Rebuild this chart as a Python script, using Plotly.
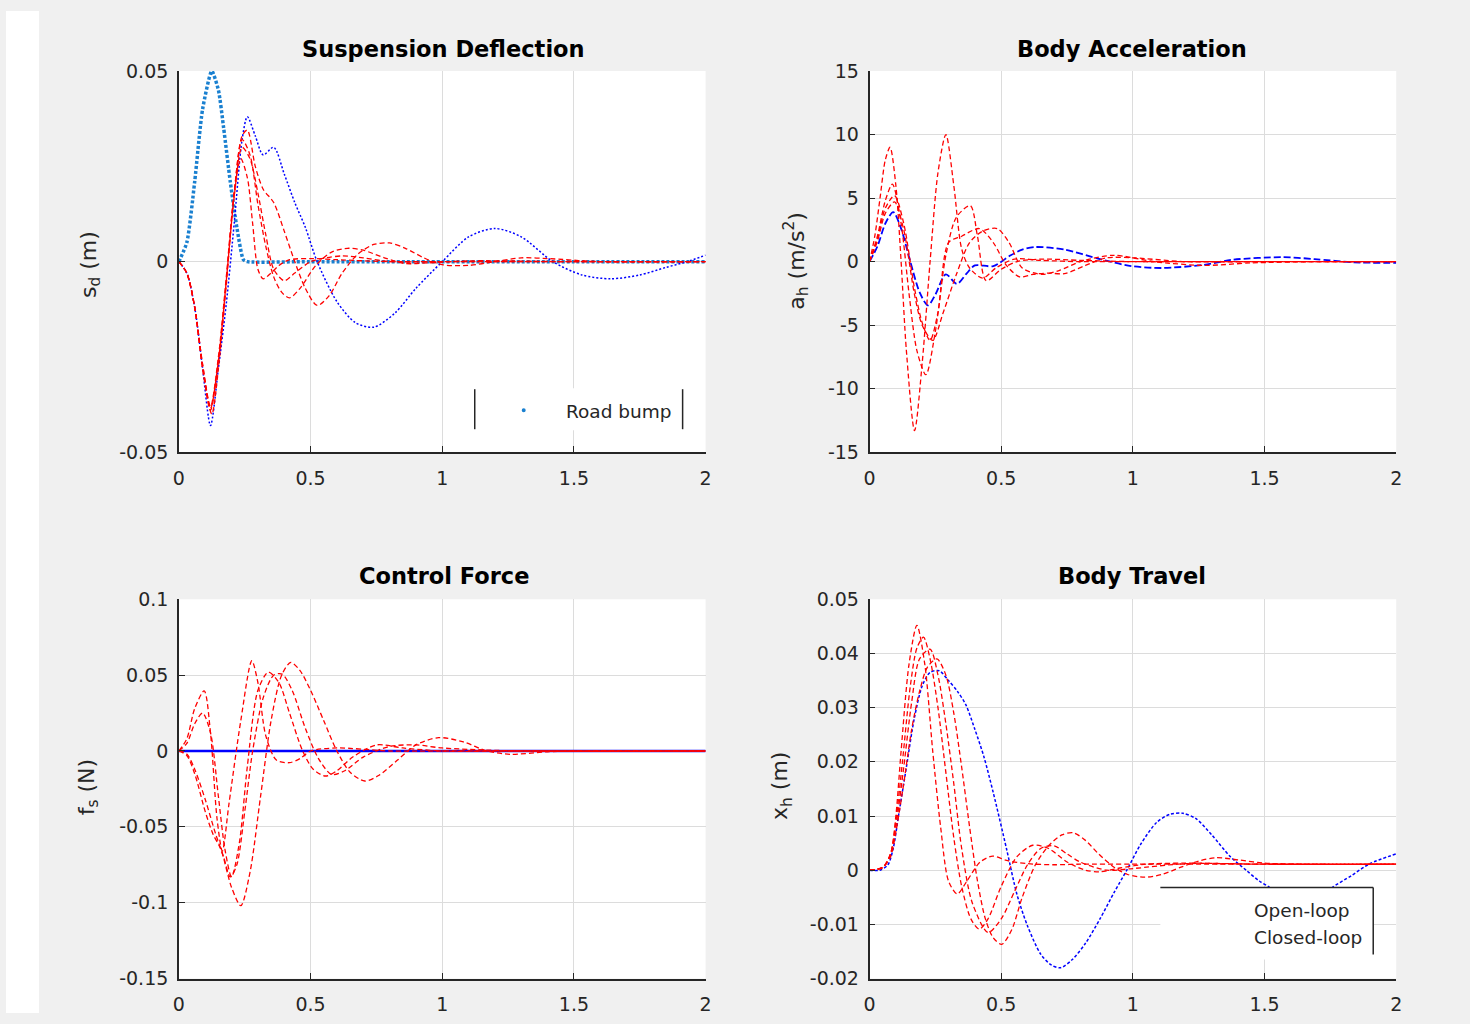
import plotly.graph_objects as go

# ---------------- data ----------------
# Suspension deflection s_d (m)
road_t = [0, 0.03, 0.06, 0.09, 0.125, 0.15, 0.17, 0.195, 0.22, 0.245, 0.26, 0.5, 1.0, 1.5, 2.0]
road_v = [0, 0.005, 0.021, 0.040, 0.050, 0.045, 0.035, 0.021, 0.009, 0.0005, 0, 0, 0, 0, 0]

sd_open_t = [0, 0.03, 0.06, 0.09, 0.12, 0.15, 0.18, 0.21, 0.24, 0.26, 0.29, 0.32, 0.36, 0.40, 0.44, 0.48,
             0.525, 0.6, 0.67, 0.74, 0.82, 0.9, 1.0, 1.1, 1.2, 1.3, 1.42, 1.53, 1.64, 1.75, 1.85, 1.93, 2.0]
sd_open_v = [0, -0.003, -0.012, -0.028, -0.043, -0.028, -0.011, 0.010, 0.032, 0.038, 0.033, 0.028, 0.030,
             0.023, 0.0155, 0.009, 0.0, -0.0105, -0.016, -0.0172, -0.0135, -0.007, 0.0, 0.0065, 0.0087,
             0.0065, 0.0, -0.0035, -0.0045, -0.0035, -0.0015, 0.0, 0.0017]

sd_cl1_t = [0, 0.03, 0.06, 0.09, 0.12, 0.15, 0.18, 0.21, 0.235, 0.26, 0.28, 0.30, 0.32, 0.35, 0.38, 0.42,
            0.5, 0.6, 0.8, 1.0, 1.5, 2.0]
sd_cl1_v = [0, -0.003, -0.012, -0.027, -0.038, -0.025, -0.004, 0.018, 0.027, 0.022, 0.010, -0.002, -0.0045,
            -0.003, -0.001, 0.0005, 0.0008, 0.0005, 0.0, 0.0, 0.0, 0.0]
sd_cl2_t = [0, 0.03, 0.06, 0.09, 0.12, 0.15, 0.18, 0.21, 0.24, 0.27, 0.30, 0.33, 0.36, 0.40, 0.44, 0.50,
            0.56, 0.62, 0.7, 0.8, 1.0, 1.5, 2.0]
sd_cl2_v = [0, -0.003, -0.012, -0.027, -0.0385, -0.026, -0.005, 0.017, 0.030, 0.027, 0.018, 0.007, -0.002,
            -0.005, -0.003, 0.0, 0.001, 0.0015, 0.001, 0.0, 0.0, 0.0, 0.0]
sd_cl3_t = [0, 0.03, 0.06, 0.09, 0.12, 0.15, 0.18, 0.21, 0.24, 0.27, 0.30, 0.33, 0.36, 0.39, 0.42, 0.46,
            0.52, 0.58, 0.64, 0.70, 0.78, 0.86, 0.95, 1.1, 1.5, 2.0]
sd_cl3_v = [0, -0.003, -0.012, -0.028, -0.039, -0.026, -0.005, 0.018, 0.032, 0.028, 0.015, 0.004, -0.004,
            -0.008, -0.0095, -0.007, -0.001, 0.0025, 0.0035, 0.003, 0.001, -0.0005, -0.0003, 0.0002, 0, 0]
sd_cl4_t = [0, 0.03, 0.06, 0.09, 0.125, 0.15, 0.18, 0.21, 0.24, 0.26, 0.29, 0.32, 0.36, 0.40, 0.44, 0.48,
            0.525, 0.57, 0.62, 0.68, 0.74, 0.80, 0.86, 0.93, 1.0, 1.1, 1.2, 1.3, 1.4, 1.6, 2.0]
sd_cl4_v = [0, -0.003, -0.012, -0.028, -0.040, -0.028, -0.006, 0.018, 0.033, 0.0345, 0.025, 0.019, 0.0155,
            0.008, 0.0, -0.007, -0.0115, -0.009, -0.003, 0.002, 0.0045, 0.0049, 0.0035, 0.001, -0.0008,
            -0.001, 0.0, 0.001, 0.0008, 0.0, 0.0]

# Body acceleration a_h (m/s^2)
ah_open_t = [0, 0.03, 0.06, 0.09, 0.12, 0.155, 0.19, 0.222, 0.25, 0.29, 0.332, 0.37, 0.40, 0.47, 0.536,
             0.58, 0.63, 0.74, 0.875, 0.994, 1.11, 1.27, 1.38, 1.57, 1.69, 1.84, 2.0]
ah_open_v = [0, 1.2, 3.0, 3.9, 2.6, 0, -2.4, -3.45, -2.6, -1.0, -1.75, -0.9, -0.3, -0.35, 0.5, 0.95, 1.15,
             0.95, 0.2, -0.35, -0.5, -0.25, 0.15, 0.35, 0.2, -0.05, -0.1]

ah_cl1_t = [0, 0.02, 0.04, 0.06, 0.078, 0.10, 0.12, 0.14, 0.171, 0.2, 0.23, 0.26, 0.29, 0.32, 0.35, 0.38,
            0.43, 0.48, 0.55, 0.65, 0.8, 1.0, 1.3, 2.0]
ah_cl1_v = [0, 2.0, 5.0, 8.0, 9.0, 6.0, 0.0, -7.0, -13.3, -8.0, 0.0, 7.0, 10.0, 6.0, 1.0, -0.5, -1.3, -0.5,
            0.2, 0.1, 0, 0, 0, 0]
ah_cl2_t = [0, 0.03, 0.06, 0.087, 0.12, 0.15, 0.18, 0.214, 0.25, 0.29, 0.33, 0.383, 0.41, 0.443, 0.5, 0.56,
            0.65, 0.8, 1.0, 1.3, 2.0]
ah_cl2_v = [0, 2.0, 4.8, 6.1, 3.0, -2.5, -7.0, -8.9, -5.5, 0.5, 3.5, 4.4, 2.0, -1.5, -0.6, 0.0, 0.2, 0.1,
            0, 0, 0]
ah_cl3_t = [0, 0.03, 0.06, 0.095, 0.13, 0.17, 0.2, 0.23, 0.26, 0.3, 0.35, 0.417, 0.47, 0.52, 0.57, 0.62,
            0.68, 0.74, 0.82, 0.9, 1.0, 1.2, 1.5, 2.0]
ah_cl3_v = [0, 1.8, 4.2, 5.2, 3.0, -2.0, -4.8, -6.2, -4.0, 1.5, 2.0, 2.6, 1.5, -0.3, -1.2, -1.0, -0.9,
            -0.95, -0.3, 0.3, 0.3, 0.0, 0.0, 0.0]
ah_cl4_t = [0, 0.03, 0.06, 0.095, 0.13, 0.17, 0.2, 0.24, 0.28, 0.33, 0.38, 0.43, 0.485, 0.53, 0.58, 0.655,
            0.72, 0.8, 0.926, 1.08, 1.27, 1.45, 1.7, 2.0]
ah_cl4_v = [0, 1.6, 3.8, 4.7, 2.5, -2.5, -5.0, -6.2, -4.0, -1.0, 1.5, 2.4, 2.6, 1.5, -0.5, -1.0, -0.7, 0.0,
            0.5, 0.0, -0.3, -0.1, 0.0, 0.0]

# Control force f_s (N)
fs_open_t = [0, 2.0]
fs_open_v = [0, 0]

fs_cl1_t = [0, 0.03, 0.06, 0.096, 0.12, 0.145, 0.165, 0.19, 0.235, 0.277, 0.30, 0.33, 0.37, 0.42, 0.46,
            0.5, 0.6, 0.8, 1.0, 1.5, 2.0]
fs_cl1_v = [0, 0.008, 0.028, 0.0396, 0.012, -0.045, -0.066, -0.035, 0.02, 0.0595, 0.045, 0.01, -0.006,
            -0.0077, -0.005, 0.0, 0.002, 0.0, 0, 0, 0]
fs_cl2_t = [0, 0.03, 0.06, 0.09, 0.12, 0.15, 0.175, 0.2, 0.23, 0.26, 0.3, 0.34, 0.38, 0.42, 0.47, 0.51,
            0.557, 0.6, 0.66, 0.75, 0.85, 1.0, 1.3, 2.0]
fs_cl2_v = [0, 0.005, 0.018, 0.025, 0.012, -0.03, -0.065, -0.083, -0.06, -0.01, 0.04, 0.052, 0.045, 0.025,
            0.0, -0.012, -0.0165, -0.013, -0.004, 0.004, 0.002, 0.0, 0.0, 0.0]
fs_cl3_t = [0, 0.03, 0.06, 0.1, 0.14, 0.17, 0.195, 0.22, 0.25, 0.28, 0.32, 0.36, 0.392, 0.43, 0.48, 0.53,
            0.58, 0.63, 0.7, 0.8, 0.9, 1.0, 1.3, 2.0]
fs_cl3_v = [0, -0.002, -0.012, -0.032, -0.055, -0.07, -0.083, -0.075, -0.04, 0.0, 0.035, 0.05, 0.0507,
            0.04, 0.015, -0.005, -0.0155, -0.013, -0.004, 0.003, 0.004, 0.002, 0.0, 0.0]
fs_cl4_t = [0, 0.03, 0.06, 0.1, 0.13, 0.16, 0.2, 0.235, 0.27, 0.31, 0.35, 0.39, 0.425, 0.46, 0.5, 0.55,
            0.6, 0.65, 0.706, 0.76, 0.83, 0.9, 0.986, 1.08, 1.17, 1.26, 1.4, 1.6, 2.0]
fs_cl4_v = [0, -0.003, -0.015, -0.04, -0.055, -0.065, -0.09, -0.102, -0.08, -0.03, 0.02, 0.05, 0.0584,
            0.053, 0.04, 0.02, 0.0, -0.014, -0.0198, -0.016, -0.006, 0.004, 0.0088, 0.006, 0.0, -0.0022,
            -0.0005, 0.0, 0.0]

# Body travel x_h (m)
xh_open_t = [0, 0.04, 0.07, 0.09, 0.11, 0.14, 0.17, 0.2, 0.23, 0.265, 0.3, 0.334, 0.366, 0.4, 0.434, 0.47,
             0.52, 0.56, 0.6, 0.65, 0.69, 0.726, 0.77, 0.82, 0.875, 0.93, 0.977, 1.03, 1.09, 1.14, 1.19,
             1.24, 1.3, 1.37, 1.43, 1.48, 1.52, 1.58, 1.64, 1.7, 1.757, 1.83, 1.9, 2.0]
xh_open_v = [0, 0.0, 0.001, 0.004, 0.010, 0.019, 0.028, 0.034, 0.0365, 0.0368, 0.035, 0.033, 0.0305,
             0.026, 0.021, 0.0143, 0.004, -0.0045, -0.0103, -0.0155, -0.0175, -0.018, -0.0165, -0.0135,
             -0.009, -0.004, 0.0, 0.0048, 0.0088, 0.0103, 0.0105, 0.0095, 0.0065, 0.0025, 0.0, -0.002,
             -0.0032, -0.0055, -0.0065, -0.0055, -0.0032, -0.001, 0.0012, 0.003]

xh_cl1_t = [0, 0.05, 0.08, 0.1, 0.12, 0.15, 0.18, 0.21, 0.24, 0.27, 0.3, 0.333, 0.37, 0.42, 0.468, 0.52,
            0.6, 0.7, 0.8, 1.0, 1.5, 2.0]
xh_cl1_v = [0, 0.0005, 0.003, 0.01, 0.022, 0.038, 0.0452, 0.038, 0.022, 0.008, -0.002, -0.0044, -0.002,
            0.0015, 0.0026, 0.0018, 0.0012, 0.001, 0.0011, 0.0011, 0.0011, 0.0011]
xh_cl2_t = [0, 0.05, 0.08, 0.1, 0.125, 0.155, 0.18, 0.205, 0.23, 0.26, 0.29, 0.32, 0.35, 0.385, 0.417,
            0.45, 0.5, 0.56, 0.62, 0.68, 0.75, 0.82, 0.875, 0.95, 1.05, 1.2, 1.5, 2.0]
xh_cl2_v = [0, 0.0005, 0.003, 0.009, 0.02, 0.034, 0.041, 0.043, 0.039, 0.03, 0.018, 0.006, -0.003,
            -0.009, -0.0109, -0.009, -0.003, 0.0025, 0.0046, 0.004, 0.0015, 0.0, -0.0003, 0.0004, 0.0011,
            0.0013, 0.0011, 0.0011]
xh_cl3_t = [0, 0.05, 0.08, 0.1, 0.13, 0.16, 0.19, 0.23, 0.26, 0.29, 0.32, 0.35, 0.39, 0.45, 0.5, 0.55,
            0.6, 0.65, 0.7, 0.75, 0.8, 0.9, 1.0, 1.2, 1.5, 2.0]
xh_cl3_v = [0, 0.0005, 0.003, 0.008, 0.019, 0.031, 0.039, 0.0408, 0.036, 0.027, 0.016, 0.004, -0.006,
            -0.0115, -0.009, -0.004, 0.001, 0.004, 0.0045, 0.003, 0.0015, 0.0, 0.0003, 0.0012, 0.0011,
            0.0011]
xh_cl4_t = [0, 0.05, 0.08, 0.1, 0.13, 0.16, 0.19, 0.22, 0.256, 0.29, 0.32, 0.35, 0.38, 0.41, 0.44, 0.47,
            0.502, 0.54, 0.58, 0.63, 0.68, 0.73, 0.774, 0.82, 0.87, 0.93, 0.98, 1.045, 1.11, 1.18, 1.25,
            1.316, 1.4, 1.5, 1.7, 2.0]
xh_cl4_v = [0, 0.0005, 0.0025, 0.007, 0.016, 0.026, 0.033, 0.0375, 0.039, 0.036, 0.029, 0.019, 0.008,
            -0.002, -0.009, -0.0125, -0.0137, -0.011, -0.005, 0.001, 0.0045, 0.0065, 0.0069, 0.0055,
            0.003, 0.0005, -0.0008, -0.0013, -0.0008, 0.0005, 0.0017, 0.0023, 0.0019, 0.0013, 0.0011,
            0.0011]

# ticks / labels
x_ticks = [0, 0.5, 1, 1.5, 2]
x_ticktext = ["0", "0.5", "1", "1.5", "2"]
sd_ticks = [-0.05, 0, 0.05]
sd_ticktext = ["-0.05", "0", "0.05"]
ah_ticks = [-15, -10, -5, 0, 5, 10, 15]
ah_ticktext = ["-15", "-10", "-5", "0", "5", "10", "15"]
fs_ticks = [-0.15, -0.1, -0.05, 0, 0.05, 0.1]
fs_ticktext = ["-0.15", "-0.1", "-0.05", "0", "0.05", "0.1"]
xh_ticks = [-0.02, -0.01, 0, 0.01, 0.02, 0.03, 0.04, 0.05]
xh_ticktext = ["-0.02", "-0.01", "0", "0.01", "0.02", "0.03", "0.04", "0.05"]

titles = ["Suspension Deflection", "Body Acceleration", "Control Force", "Body Travel"]
ylabels = ["s<sub>d</sub> (m)", "a<sub>h</sub> (m/s<sup>2</sup>)", "f<sub>s</sub> (N)", "x<sub>h</sub> (m)"]
legend1 = ["Road bump"]
legend2 = ["Open-loop", "Closed-loop"]

# ---------------- figure ----------------
W, H = 1470, 1024
# the page is shown slightly offset/scaled; convert target picture pixels to figure pixels
def DX(x):
    return (x - 5.0) / 0.9924
def DY(y):
    return (y - 12.0) / 0.978
def px(x):
    return DX(x) / W
def py(y):
    return 1 - DY(y) / H

RED = "#ff0000"
BLUE = "#0000ff"
BUMP = "#1a80d0"
FONT = "DejaVu Sans"
TXT = "#262626"

fig = go.Figure()

def red(t, v, xa, ya):
    fig.add_trace(go.Scatter(x=t, y=v, mode="lines", xaxis=xa, yaxis=ya, showlegend=False,
                             line=dict(color=RED, width=1.3, dash="5px,3px", shape="spline", smoothing=0.8)))

# panel 1
fig.add_trace(go.Scatter(x=road_t, y=road_v, mode="lines", xaxis="x", yaxis="y", showlegend=False,
                         line=dict(color=BUMP, width=3.5, dash="3px,2px", shape="spline", smoothing=0.6)))
fig.add_trace(go.Scatter(x=sd_open_t, y=sd_open_v, mode="lines", xaxis="x", yaxis="y", showlegend=False,
                         line=dict(color=BLUE, width=1.5, dash="2px,2px", shape="spline", smoothing=0.8)))
for t, v in [(sd_cl1_t, sd_cl1_v), (sd_cl2_t, sd_cl2_v), (sd_cl3_t, sd_cl3_v), (sd_cl4_t, sd_cl4_v)]:
    red(t, v, "x", "y")

# panel 2
fig.add_trace(go.Scatter(x=ah_open_t, y=ah_open_v, mode="lines", xaxis="x2", yaxis="y2", showlegend=False,
                         line=dict(color=BLUE, width=1.8, dash="7px,3px", shape="spline", smoothing=0.8)))
for t, v in [(ah_cl1_t, ah_cl1_v), (ah_cl2_t, ah_cl2_v), (ah_cl3_t, ah_cl3_v), (ah_cl4_t, ah_cl4_v)]:
    red(t, v, "x2", "y2")

# panel 3
fig.add_trace(go.Scatter(x=fs_open_t, y=fs_open_v, mode="lines", xaxis="x3", yaxis="y3", showlegend=False,
                         line=dict(color=BLUE, width=2.5)))
for t, v in [(fs_cl1_t, fs_cl1_v), (fs_cl2_t, fs_cl2_v), (fs_cl3_t, fs_cl3_v), (fs_cl4_t, fs_cl4_v)]:
    red(t, v, "x3", "y3")

# panel 4
fig.add_trace(go.Scatter(x=xh_open_t, y=xh_open_v, mode="lines", xaxis="x4", yaxis="y4", showlegend=False,
                         line=dict(color=BLUE, width=1.5, dash="3px,2px", shape="spline", smoothing=0.8)))
for t, v in [(xh_cl1_t, xh_cl1_v), (xh_cl2_t, xh_cl2_v), (xh_cl3_t, xh_cl3_v), (xh_cl4_t, xh_cl4_v)]:
    red(t, v, "x4", "y4")

col1 = [px(178), px(705)]
col2 = [px(869), px(1396)]
row1 = [py(453), py(72)]
row2 = [py(979), py(600)]

common = dict(showline=True, linecolor=TXT, linewidth=1.5, ticks="inside", ticklen=6, tickwidth=1,
              tickcolor=TXT, showgrid=True, gridcolor="#dcdcdc", gridwidth=1, zeroline=False,
              tickfont=dict(family=FONT, size=19, color=TXT), mirror=False, fixedrange=True)

def xax(domain, anchor):
    return dict(common, domain=domain, anchor=anchor, range=[0, 2], tickvals=x_ticks, ticktext=x_ticktext,
                ticklabelstandoff=8)

def yax(domain, anchor, rng, tv, tt):
    return dict(common, domain=domain, anchor=anchor, range=rng, tickvals=tv, ticktext=tt,
                ticklabelstandoff=5)

fig.update_layout(
    width=W, height=H, margin=dict(l=0, r=0, t=0, b=0),
    paper_bgcolor="#f0f0f0", plot_bgcolor="#ffffff",
    xaxis=xax(col1, "y"), yaxis=yax(row1, "x", [-0.05, 0.05], sd_ticks, sd_ticktext),
    xaxis2=xax(col2, "y2"), yaxis2=yax(row1, "x2", [-15, 15], ah_ticks, ah_ticktext),
    xaxis3=xax(col1, "y3"), yaxis3=yax(row2, "x3", [-0.15, 0.1], fs_ticks, fs_ticktext),
    xaxis4=xax(col2, "y4"), yaxis4=yax(row2, "x4", [-0.02, 0.05], xh_ticks, xh_ticktext),
)

shapes = [
    # white strip on the left of the figure window
    dict(type="rect", xref="paper", yref="paper", x0=0, x1=px(38), y0=0, y1=1,
         fillcolor="#ffffff", line=dict(width=0), layer="below"),
    # legend 1
    dict(type="rect", xref="paper", yref="paper", x0=px(474), x1=px(682), y0=py(431), y1=py(389),
         fillcolor="#ffffff", line=dict(width=0), layer="above"),
    dict(type="line", xref="paper", yref="paper", x0=px(474), x1=px(474), y0=py(430), y1=py(390),
         line=dict(color=TXT, width=1.5), layer="above"),
    dict(type="line", xref="paper", yref="paper", x0=px(682), x1=px(682), y0=py(430), y1=py(390),
         line=dict(color=TXT, width=1.5), layer="above"),
    dict(type="circle", xref="paper", yref="paper", x0=px(521), x1=px(525), y0=py(413), y1=py(409),
         fillcolor=BUMP, line=dict(width=0), layer="above"),
    # legend 2
    dict(type="rect", xref="paper", yref="paper", x0=px(1160), x1=px(1373), y0=py(960), y1=py(888),
         fillcolor="#ffffff", line=dict(width=0), layer="above"),
    dict(type="line", xref="paper", yref="paper", x0=px(1160), x1=px(1373), y0=py(888), y1=py(888),
         line=dict(color=TXT, width=1.5), layer="above"),
    dict(type="line", xref="paper", yref="paper", x0=px(1373), x1=px(1373), y0=py(888), y1=py(955),
         line=dict(color=TXT, width=1.5), layer="above"),
]
fig.update_layout(shapes=shapes)

ann = []
title_pos = [(443, 50), (1132, 50), (443, 577), (1132, 577)]
for txt, (x, y) in zip(titles, title_pos):
    ann.append(dict(text="<b>" + txt + "</b>", x=px(x), y=py(y), xref="paper", yref="paper",
                    showarrow=False, xanchor="center", yanchor="middle",
                    font=dict(family=FONT, size=22.5, color="#000000")))
label_pos = [(89, 265), (796, 262), (87, 788), (781, 787)]
for txt, (x, y) in zip(ylabels, label_pos):
    ann.append(dict(text=txt, x=px(x), y=py(y), xref="paper", yref="paper", showarrow=False,
                    textangle=-90, xanchor="center", yanchor="middle",
                    font=dict(family=FONT, size=22, color=TXT)))
ann.append(dict(text=legend1[0], x=px(563), y=py(412), xref="paper", yref="paper", showarrow=False,
                xanchor="left", yanchor="middle", font=dict(family=FONT, size=18.5, color=TXT)))
for i, txt in enumerate(legend2):
    ann.append(dict(text=txt, x=px(1252), y=py(911 + 27 * i), xref="paper", yref="paper", showarrow=False,
                    xanchor="left", yanchor="middle", font=dict(family=FONT, size=18.5, color=TXT)))
fig.update_layout(annotations=ann)

fig.write_html("out.html")
